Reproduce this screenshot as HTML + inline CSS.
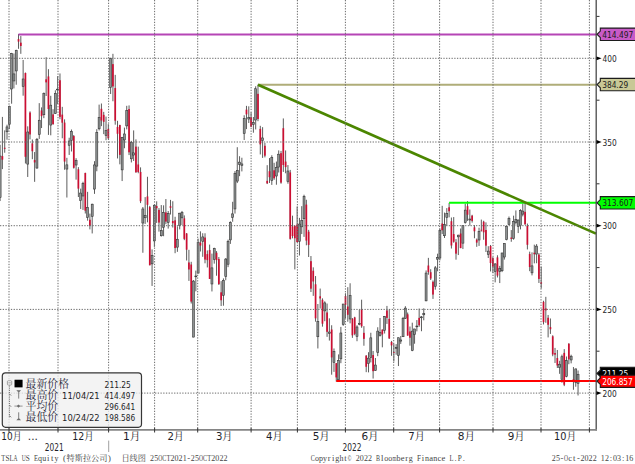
<!DOCTYPE html>
<html><head><meta charset="utf-8"><style>
html,body{margin:0;padding:0;background:#fff;width:635px;height:464px;overflow:hidden}
svg{display:block}
.ax{font-family:"DejaVu Sans","Noto Sans CJK SC",sans-serif;font-size:9.4px;fill:#1e1e28}
.mo{font-family:"DejaVu Sans","Noto Serif CJK SC",sans-serif;font-size:9.8px;fill:#1e1e28}
.lg{font-family:"Liberation Serif","Noto Serif CJK SC",serif;font-size:10.9px;font-weight:400;fill:#2a2a3a}
.ft{font-family:"Liberation Serif",serif;font-size:8.6px;fill:#444}
.ftc{font-family:"Liberation Serif","Noto Serif CJK SC",serif;font-size:8.2px;fill:#444}
</style></head><body>
<svg width="635" height="464" viewBox="0 0 635 464">
<rect width="635" height="464" fill="#fff"/>
<line x1="0.10" y1="144.78" x2="0.10" y2="201.04" stroke="#4a4a4a" stroke-width="0.9"/>
<rect x="-0.90" y="156.03" width="2.0" height="41.48" fill="#8e9292" stroke="#2e2e2e" stroke-width="0.55"/>
<line x1="2.40" y1="116.92" x2="2.40" y2="169.10" stroke="#4a4a4a" stroke-width="0.9"/>
<rect x="1.55" y="156.12" width="1.7" height="3.49" fill="#cc0e32"/>
<line x1="4.71" y1="130.35" x2="4.71" y2="152.72" stroke="#4a4a4a" stroke-width="0.9"/>
<rect x="3.86" y="147.77" width="1.7" height="1.00" fill="#cc0e32"/>
<line x1="7.01" y1="124.70" x2="7.01" y2="139.66" stroke="#4a4a4a" stroke-width="0.9"/>
<rect x="6.01" y="126.91" width="2.0" height="4.87" fill="#8e9292" stroke="#2e2e2e" stroke-width="0.55"/>
<line x1="9.31" y1="105.61" x2="9.31" y2="129.05" stroke="#4a4a4a" stroke-width="0.9"/>
<rect x="8.31" y="106.29" width="2.0" height="17.93" fill="#8e9292" stroke="#2e2e2e" stroke-width="0.55"/>
<line x1="11.61" y1="52.86" x2="11.61" y2="103.69" stroke="#4a4a4a" stroke-width="0.9"/>
<rect x="10.61" y="53.51" width="2.0" height="35.48" fill="#8e9292" stroke="#2e2e2e" stroke-width="0.55"/>
<line x1="13.92" y1="53.51" x2="13.92" y2="88.43" stroke="#4a4a4a" stroke-width="0.9"/>
<rect x="12.92" y="73.92" width="2.0" height="7.05" fill="#8e9292" stroke="#2e2e2e" stroke-width="0.55"/>
<line x1="16.22" y1="49.71" x2="16.22" y2="84.74" stroke="#4a4a4a" stroke-width="0.9"/>
<rect x="15.22" y="50.57" width="2.0" height="20.38" fill="#8e9292" stroke="#2e2e2e" stroke-width="0.55"/>
<line x1="18.52" y1="34.03" x2="18.52" y2="48.81" stroke="#4a4a4a" stroke-width="0.9"/>
<rect x="17.67" y="39.10" width="1.7" height="2.51" fill="#cc0e32"/>
<line x1="20.82" y1="36.05" x2="20.82" y2="53.84" stroke="#4a4a4a" stroke-width="0.9"/>
<rect x="19.97" y="42.68" width="1.7" height="3.30" fill="#cc0e32"/>
<line x1="23.13" y1="59.97" x2="23.13" y2="95.69" stroke="#4a4a4a" stroke-width="0.9"/>
<rect x="22.13" y="78.98" width="2.0" height="7.34" fill="#8e9292" stroke="#2e2e2e" stroke-width="0.55"/>
<line x1="25.43" y1="72.53" x2="25.43" y2="163.47" stroke="#4a4a4a" stroke-width="0.9"/>
<rect x="24.58" y="73.03" width="1.7" height="83.76" fill="#cc0e32"/>
<line x1="27.73" y1="126.32" x2="27.73" y2="176.98" stroke="#4a4a4a" stroke-width="0.9"/>
<rect x="26.73" y="131.98" width="2.0" height="32.11" fill="#8e9292" stroke="#2e2e2e" stroke-width="0.55"/>
<line x1="30.03" y1="111.33" x2="30.03" y2="139.39" stroke="#4a4a4a" stroke-width="0.9"/>
<rect x="29.18" y="112.55" width="1.7" height="21.91" fill="#cc0e32"/>
<line x1="32.34" y1="139.49" x2="32.34" y2="159.19" stroke="#4a4a4a" stroke-width="0.9"/>
<rect x="31.49" y="143.39" width="1.7" height="7.86" fill="#cc0e32"/>
<line x1="34.64" y1="152.06" x2="34.64" y2="181.84" stroke="#4a4a4a" stroke-width="0.9"/>
<rect x="33.79" y="160.06" width="1.7" height="2.37" fill="#cc0e32"/>
<line x1="36.94" y1="137.98" x2="36.94" y2="168.68" stroke="#4a4a4a" stroke-width="0.9"/>
<rect x="35.94" y="139.36" width="2.0" height="28.69" fill="#8e9292" stroke="#2e2e2e" stroke-width="0.55"/>
<line x1="39.24" y1="103.14" x2="39.24" y2="138.93" stroke="#4a4a4a" stroke-width="0.9"/>
<rect x="38.24" y="120.23" width="2.0" height="14.23" fill="#8e9292" stroke="#2e2e2e" stroke-width="0.55"/>
<line x1="41.55" y1="107.40" x2="41.55" y2="128.04" stroke="#4a4a4a" stroke-width="0.9"/>
<rect x="40.70" y="110.45" width="1.7" height="5.67" fill="#cc0e32"/>
<line x1="43.85" y1="92.49" x2="43.85" y2="118.17" stroke="#4a4a4a" stroke-width="0.9"/>
<rect x="42.85" y="93.42" width="2.0" height="21.31" fill="#8e9292" stroke="#2e2e2e" stroke-width="0.55"/>
<line x1="46.15" y1="57.21" x2="46.15" y2="96.00" stroke="#4a4a4a" stroke-width="0.9"/>
<rect x="45.30" y="79.32" width="1.7" height="3.05" fill="#cc0e32"/>
<line x1="48.45" y1="69.18" x2="48.45" y2="134.91" stroke="#4a4a4a" stroke-width="0.9"/>
<rect x="47.60" y="76.43" width="1.7" height="32.63" fill="#cc0e32"/>
<line x1="50.76" y1="95.81" x2="50.76" y2="135.30" stroke="#4a4a4a" stroke-width="0.9"/>
<rect x="49.76" y="105.17" width="2.0" height="19.87" fill="#8e9292" stroke="#2e2e2e" stroke-width="0.55"/>
<line x1="53.06" y1="109.20" x2="53.06" y2="124.70" stroke="#4a4a4a" stroke-width="0.9"/>
<rect x="52.21" y="114.40" width="1.7" height="9.79" fill="#cc0e32"/>
<line x1="55.36" y1="90.29" x2="55.36" y2="113.99" stroke="#4a4a4a" stroke-width="0.9"/>
<rect x="54.36" y="93.46" width="2.0" height="20.09" fill="#8e9292" stroke="#2e2e2e" stroke-width="0.55"/>
<line x1="57.66" y1="76.16" x2="57.66" y2="104.06" stroke="#4a4a4a" stroke-width="0.9"/>
<rect x="56.66" y="89.12" width="2.0" height="0.80" fill="#8e9292" stroke="#2e2e2e" stroke-width="0.55"/>
<line x1="59.97" y1="73.46" x2="59.97" y2="119.26" stroke="#4a4a4a" stroke-width="0.9"/>
<rect x="59.12" y="80.23" width="1.7" height="36.66" fill="#cc0e32"/>
<line x1="62.27" y1="106.85" x2="62.27" y2="138.29" stroke="#4a4a4a" stroke-width="0.9"/>
<rect x="61.42" y="114.62" width="1.7" height="8.07" fill="#cc0e32"/>
<line x1="64.57" y1="119.36" x2="64.57" y2="169.78" stroke="#4a4a4a" stroke-width="0.9"/>
<rect x="63.72" y="122.59" width="1.7" height="38.96" fill="#cc0e32"/>
<line x1="66.88" y1="157.82" x2="66.88" y2="197.52" stroke="#4a4a4a" stroke-width="0.9"/>
<rect x="65.88" y="164.87" width="2.0" height="4.19" fill="#8e9292" stroke="#2e2e2e" stroke-width="0.55"/>
<line x1="69.18" y1="137.72" x2="69.18" y2="154.94" stroke="#4a4a4a" stroke-width="0.9"/>
<rect x="68.18" y="141.02" width="2.0" height="4.21" fill="#8e9292" stroke="#2e2e2e" stroke-width="0.55"/>
<line x1="71.48" y1="129.51" x2="71.48" y2="151.49" stroke="#4a4a4a" stroke-width="0.9"/>
<rect x="70.48" y="131.42" width="2.0" height="9.07" fill="#8e9292" stroke="#2e2e2e" stroke-width="0.55"/>
<line x1="73.78" y1="135.03" x2="73.78" y2="168.58" stroke="#4a4a4a" stroke-width="0.9"/>
<rect x="72.93" y="136.06" width="1.7" height="31.72" fill="#cc0e32"/>
<line x1="76.09" y1="158.19" x2="76.09" y2="179.65" stroke="#4a4a4a" stroke-width="0.9"/>
<rect x="75.09" y="160.40" width="2.0" height="4.62" fill="#8e9292" stroke="#2e2e2e" stroke-width="0.55"/>
<line x1="78.39" y1="167.11" x2="78.39" y2="197.01" stroke="#4a4a4a" stroke-width="0.9"/>
<rect x="77.54" y="169.29" width="1.7" height="19.35" fill="#cc0e32"/>
<line x1="80.69" y1="188.64" x2="80.69" y2="208.96" stroke="#4a4a4a" stroke-width="0.9"/>
<rect x="79.69" y="193.05" width="2.0" height="7.54" fill="#8e9292" stroke="#2e2e2e" stroke-width="0.55"/>
<line x1="82.99" y1="181.76" x2="82.99" y2="209.94" stroke="#4a4a4a" stroke-width="0.9"/>
<rect x="81.99" y="183.30" width="2.0" height="12.71" fill="#8e9292" stroke="#2e2e2e" stroke-width="0.55"/>
<line x1="85.30" y1="172.70" x2="85.30" y2="213.51" stroke="#4a4a4a" stroke-width="0.9"/>
<rect x="84.45" y="172.97" width="1.7" height="37.71" fill="#cc0e32"/>
<line x1="87.60" y1="191.85" x2="87.60" y2="220.66" stroke="#4a4a4a" stroke-width="0.9"/>
<rect x="86.60" y="207.53" width="2.0" height="9.93" fill="#8e9292" stroke="#2e2e2e" stroke-width="0.55"/>
<line x1="89.90" y1="213.60" x2="89.90" y2="229.39" stroke="#4a4a4a" stroke-width="0.9"/>
<rect x="89.05" y="219.73" width="1.7" height="6.00" fill="#cc0e32"/>
<line x1="92.20" y1="203.66" x2="92.20" y2="233.45" stroke="#4a4a4a" stroke-width="0.9"/>
<rect x="91.20" y="204.20" width="2.0" height="12.09" fill="#8e9292" stroke="#2e2e2e" stroke-width="0.55"/>
<line x1="94.51" y1="161.16" x2="94.51" y2="193.87" stroke="#4a4a4a" stroke-width="0.9"/>
<rect x="93.51" y="164.95" width="2.0" height="24.11" fill="#8e9292" stroke="#2e2e2e" stroke-width="0.55"/>
<line x1="96.81" y1="129.18" x2="96.81" y2="171.26" stroke="#4a4a4a" stroke-width="0.9"/>
<rect x="95.81" y="132.51" width="2.0" height="33.59" fill="#8e9292" stroke="#2e2e2e" stroke-width="0.55"/>
<line x1="99.11" y1="104.61" x2="99.11" y2="130.44" stroke="#4a4a4a" stroke-width="0.9"/>
<rect x="98.11" y="117.48" width="2.0" height="11.31" fill="#8e9292" stroke="#2e2e2e" stroke-width="0.55"/>
<line x1="101.41" y1="103.50" x2="101.41" y2="126.14" stroke="#4a4a4a" stroke-width="0.9"/>
<rect x="100.56" y="108.80" width="1.7" height="11.73" fill="#cc0e32"/>
<line x1="103.72" y1="111.87" x2="103.72" y2="134.11" stroke="#4a4a4a" stroke-width="0.9"/>
<rect x="102.87" y="114.86" width="1.7" height="6.95" fill="#cc0e32"/>
<line x1="106.02" y1="116.58" x2="106.02" y2="140.24" stroke="#4a4a4a" stroke-width="0.9"/>
<rect x="105.02" y="130.65" width="2.0" height="5.03" fill="#8e9292" stroke="#2e2e2e" stroke-width="0.55"/>
<line x1="108.32" y1="124.14" x2="108.32" y2="139.44" stroke="#4a4a4a" stroke-width="0.9"/>
<rect x="107.47" y="128.92" width="1.7" height="9.30" fill="#cc0e32"/>
<line x1="110.62" y1="57.70" x2="110.62" y2="93.99" stroke="#4a4a4a" stroke-width="0.9"/>
<rect x="109.62" y="58.42" width="2.0" height="29.03" fill="#8e9292" stroke="#2e2e2e" stroke-width="0.55"/>
<line x1="112.93" y1="53.84" x2="112.93" y2="101.24" stroke="#4a4a4a" stroke-width="0.9"/>
<rect x="112.08" y="64.13" width="1.7" height="22.30" fill="#cc0e32"/>
<line x1="115.23" y1="74.85" x2="115.23" y2="124.70" stroke="#4a4a4a" stroke-width="0.9"/>
<rect x="114.38" y="88.07" width="1.7" height="32.66" fill="#cc0e32"/>
<line x1="117.53" y1="120.80" x2="117.53" y2="158.46" stroke="#4a4a4a" stroke-width="0.9"/>
<rect x="116.68" y="126.93" width="1.7" height="6.86" fill="#cc0e32"/>
<line x1="119.84" y1="124.74" x2="119.84" y2="164.32" stroke="#4a4a4a" stroke-width="0.9"/>
<rect x="118.99" y="125.05" width="1.7" height="29.80" fill="#cc0e32"/>
<line x1="122.14" y1="136.92" x2="122.14" y2="181.06" stroke="#4a4a4a" stroke-width="0.9"/>
<rect x="121.14" y="137.47" width="2.0" height="32.43" fill="#8e9292" stroke="#2e2e2e" stroke-width="0.55"/>
<line x1="124.44" y1="127.58" x2="124.44" y2="148.24" stroke="#4a4a4a" stroke-width="0.9"/>
<rect x="123.44" y="133.96" width="2.0" height="5.99" fill="#8e9292" stroke="#2e2e2e" stroke-width="0.55"/>
<line x1="126.74" y1="105.82" x2="126.74" y2="129.39" stroke="#4a4a4a" stroke-width="0.9"/>
<rect x="125.74" y="110.63" width="2.0" height="15.27" fill="#8e9292" stroke="#2e2e2e" stroke-width="0.55"/>
<line x1="129.05" y1="105.40" x2="129.05" y2="155.09" stroke="#4a4a4a" stroke-width="0.9"/>
<rect x="128.20" y="109.04" width="1.7" height="43.25" fill="#cc0e32"/>
<line x1="131.35" y1="140.88" x2="131.35" y2="162.43" stroke="#4a4a4a" stroke-width="0.9"/>
<rect x="130.35" y="142.22" width="2.0" height="16.59" fill="#8e9292" stroke="#2e2e2e" stroke-width="0.55"/>
<line x1="133.65" y1="130.40" x2="133.65" y2="160.94" stroke="#4a4a4a" stroke-width="0.9"/>
<rect x="132.65" y="152.88" width="2.0" height="2.18" fill="#8e9292" stroke="#2e2e2e" stroke-width="0.55"/>
<line x1="135.95" y1="139.39" x2="135.95" y2="172.69" stroke="#4a4a4a" stroke-width="0.9"/>
<rect x="135.10" y="146.63" width="1.7" height="25.70" fill="#cc0e32"/>
<line x1="138.26" y1="146.65" x2="138.26" y2="173.25" stroke="#4a4a4a" stroke-width="0.9"/>
<rect x="137.41" y="164.47" width="1.7" height="7.51" fill="#cc0e32"/>
<line x1="140.56" y1="167.36" x2="140.56" y2="203.10" stroke="#4a4a4a" stroke-width="0.9"/>
<rect x="139.71" y="171.94" width="1.7" height="29.26" fill="#cc0e32"/>
<line x1="142.86" y1="207.00" x2="142.86" y2="252.78" stroke="#4a4a4a" stroke-width="0.9"/>
<rect x="141.86" y="208.96" width="2.0" height="14.08" fill="#8e9292" stroke="#2e2e2e" stroke-width="0.55"/>
<line x1="145.16" y1="197.10" x2="145.16" y2="223.91" stroke="#4a4a4a" stroke-width="0.9"/>
<rect x="144.16" y="215.43" width="2.0" height="2.34" fill="#8e9292" stroke="#2e2e2e" stroke-width="0.55"/>
<line x1="147.47" y1="176.77" x2="147.47" y2="222.35" stroke="#4a4a4a" stroke-width="0.9"/>
<rect x="146.62" y="196.44" width="1.7" height="8.38" fill="#cc0e32"/>
<line x1="149.77" y1="205.95" x2="149.77" y2="265.32" stroke="#4a4a4a" stroke-width="0.9"/>
<rect x="148.92" y="207.09" width="1.7" height="58.18" fill="#cc0e32"/>
<line x1="152.07" y1="249.42" x2="152.07" y2="285.96" stroke="#4a4a4a" stroke-width="0.9"/>
<rect x="151.07" y="255.64" width="2.0" height="8.25" fill="#8e9292" stroke="#2e2e2e" stroke-width="0.55"/>
<line x1="154.37" y1="204.50" x2="154.37" y2="246.88" stroke="#4a4a4a" stroke-width="0.9"/>
<rect x="153.37" y="205.21" width="2.0" height="35.72" fill="#8e9292" stroke="#2e2e2e" stroke-width="0.55"/>
<line x1="156.68" y1="201.32" x2="156.68" y2="222.91" stroke="#4a4a4a" stroke-width="0.9"/>
<rect x="155.83" y="206.05" width="1.7" height="2.21" fill="#cc0e32"/>
<line x1="158.98" y1="208.12" x2="158.98" y2="231.61" stroke="#4a4a4a" stroke-width="0.9"/>
<rect x="158.13" y="209.98" width="1.7" height="12.57" fill="#cc0e32"/>
<line x1="161.28" y1="205.05" x2="161.28" y2="236.57" stroke="#4a4a4a" stroke-width="0.9"/>
<rect x="160.28" y="230.64" width="2.0" height="5.10" fill="#8e9292" stroke="#2e2e2e" stroke-width="0.55"/>
<line x1="163.58" y1="205.33" x2="163.58" y2="236.21" stroke="#4a4a4a" stroke-width="0.9"/>
<rect x="162.58" y="212.69" width="2.0" height="14.56" fill="#8e9292" stroke="#2e2e2e" stroke-width="0.55"/>
<line x1="165.89" y1="199.04" x2="165.89" y2="224.19" stroke="#4a4a4a" stroke-width="0.9"/>
<rect x="165.04" y="212.43" width="1.7" height="9.18" fill="#cc0e32"/>
<line x1="168.19" y1="211.03" x2="168.19" y2="228.60" stroke="#4a4a4a" stroke-width="0.9"/>
<rect x="167.19" y="213.42" width="2.0" height="9.19" fill="#8e9292" stroke="#2e2e2e" stroke-width="0.55"/>
<line x1="170.49" y1="199.88" x2="170.49" y2="214.54" stroke="#4a4a4a" stroke-width="0.9"/>
<rect x="169.64" y="206.17" width="1.7" height="1.67" fill="#cc0e32"/>
<line x1="172.79" y1="201.25" x2="172.79" y2="227.54" stroke="#4a4a4a" stroke-width="0.9"/>
<rect x="171.94" y="221.03" width="1.7" height="2.13" fill="#cc0e32"/>
<line x1="175.10" y1="216.79" x2="175.10" y2="253.21" stroke="#4a4a4a" stroke-width="0.9"/>
<rect x="174.25" y="220.33" width="1.7" height="27.69" fill="#cc0e32"/>
<line x1="177.40" y1="226.32" x2="177.40" y2="251.84" stroke="#4a4a4a" stroke-width="0.9"/>
<rect x="176.40" y="239.23" width="2.0" height="7.92" fill="#8e9292" stroke="#2e2e2e" stroke-width="0.55"/>
<line x1="179.70" y1="212.87" x2="179.70" y2="229.39" stroke="#4a4a4a" stroke-width="0.9"/>
<rect x="178.70" y="213.18" width="2.0" height="12.52" fill="#8e9292" stroke="#2e2e2e" stroke-width="0.55"/>
<line x1="182.01" y1="210.95" x2="182.01" y2="225.02" stroke="#4a4a4a" stroke-width="0.9"/>
<rect x="181.01" y="212.65" width="2.0" height="5.21" fill="#8e9292" stroke="#2e2e2e" stroke-width="0.55"/>
<line x1="184.31" y1="215.38" x2="184.31" y2="240.15" stroke="#4a4a4a" stroke-width="0.9"/>
<rect x="183.46" y="218.30" width="1.7" height="20.60" fill="#cc0e32"/>
<line x1="186.61" y1="233.03" x2="186.61" y2="260.51" stroke="#4a4a4a" stroke-width="0.9"/>
<rect x="185.76" y="233.51" width="1.7" height="16.19" fill="#cc0e32"/>
<line x1="188.91" y1="249.84" x2="188.91" y2="280.89" stroke="#4a4a4a" stroke-width="0.9"/>
<rect x="188.06" y="262.46" width="1.7" height="7.03" fill="#cc0e32"/>
<line x1="191.22" y1="261.80" x2="191.22" y2="303.51" stroke="#4a4a4a" stroke-width="0.9"/>
<rect x="190.37" y="264.52" width="1.7" height="37.05" fill="#cc0e32"/>
<line x1="193.52" y1="280.12" x2="193.52" y2="337.30" stroke="#4a4a4a" stroke-width="0.9"/>
<rect x="192.52" y="281.07" width="2.0" height="56.01" fill="#8e9292" stroke="#2e2e2e" stroke-width="0.55"/>
<line x1="195.82" y1="270.62" x2="195.82" y2="291.32" stroke="#4a4a4a" stroke-width="0.9"/>
<rect x="194.82" y="275.99" width="2.0" height="0.80" fill="#8e9292" stroke="#2e2e2e" stroke-width="0.55"/>
<line x1="198.12" y1="238.61" x2="198.12" y2="273.29" stroke="#4a4a4a" stroke-width="0.9"/>
<rect x="197.12" y="242.20" width="2.0" height="30.92" fill="#8e9292" stroke="#2e2e2e" stroke-width="0.55"/>
<line x1="200.43" y1="231.35" x2="200.43" y2="251.49" stroke="#4a4a4a" stroke-width="0.9"/>
<rect x="199.58" y="242.62" width="1.7" height="2.96" fill="#cc0e32"/>
<line x1="202.73" y1="233.24" x2="202.73" y2="256.80" stroke="#4a4a4a" stroke-width="0.9"/>
<rect x="201.73" y="236.92" width="2.0" height="4.33" fill="#8e9292" stroke="#2e2e2e" stroke-width="0.55"/>
<line x1="205.03" y1="233.27" x2="205.03" y2="263.31" stroke="#4a4a4a" stroke-width="0.9"/>
<rect x="204.18" y="237.55" width="1.7" height="22.03" fill="#cc0e32"/>
<line x1="207.33" y1="250.45" x2="207.33" y2="267.46" stroke="#4a4a4a" stroke-width="0.9"/>
<rect x="206.48" y="254.10" width="1.7" height="6.03" fill="#cc0e32"/>
<line x1="209.64" y1="244.59" x2="209.64" y2="278.95" stroke="#4a4a4a" stroke-width="0.9"/>
<rect x="208.79" y="250.08" width="1.7" height="28.86" fill="#cc0e32"/>
<line x1="211.94" y1="253.61" x2="211.94" y2="291.45" stroke="#4a4a4a" stroke-width="0.9"/>
<rect x="210.94" y="267.88" width="2.0" height="16.11" fill="#8e9292" stroke="#2e2e2e" stroke-width="0.55"/>
<line x1="214.24" y1="247.71" x2="214.24" y2="263.64" stroke="#4a4a4a" stroke-width="0.9"/>
<rect x="213.24" y="248.59" width="2.0" height="10.88" fill="#8e9292" stroke="#2e2e2e" stroke-width="0.55"/>
<line x1="216.54" y1="251.12" x2="216.54" y2="275.72" stroke="#4a4a4a" stroke-width="0.9"/>
<rect x="215.69" y="252.79" width="1.7" height="7.34" fill="#cc0e32"/>
<line x1="218.85" y1="257.06" x2="218.85" y2="284.98" stroke="#4a4a4a" stroke-width="0.9"/>
<rect x="218.00" y="259.07" width="1.7" height="25.03" fill="#cc0e32"/>
<line x1="221.15" y1="281.11" x2="221.15" y2="306.03" stroke="#4a4a4a" stroke-width="0.9"/>
<rect x="220.30" y="292.32" width="1.7" height="7.95" fill="#cc0e32"/>
<line x1="223.45" y1="278.39" x2="223.45" y2="305.73" stroke="#4a4a4a" stroke-width="0.9"/>
<rect x="222.45" y="280.45" width="2.0" height="14.85" fill="#8e9292" stroke="#2e2e2e" stroke-width="0.55"/>
<line x1="225.75" y1="258.06" x2="225.75" y2="280.24" stroke="#4a4a4a" stroke-width="0.9"/>
<rect x="224.75" y="259.05" width="2.0" height="17.43" fill="#8e9292" stroke="#2e2e2e" stroke-width="0.55"/>
<line x1="228.06" y1="239.65" x2="228.06" y2="267.15" stroke="#4a4a4a" stroke-width="0.9"/>
<rect x="227.06" y="241.55" width="2.0" height="22.66" fill="#8e9292" stroke="#2e2e2e" stroke-width="0.55"/>
<line x1="230.36" y1="221.32" x2="230.36" y2="243.90" stroke="#4a4a4a" stroke-width="0.9"/>
<rect x="229.36" y="222.69" width="2.0" height="17.24" fill="#8e9292" stroke="#2e2e2e" stroke-width="0.55"/>
<line x1="232.66" y1="201.79" x2="232.66" y2="221.74" stroke="#4a4a4a" stroke-width="0.9"/>
<rect x="231.66" y="213.89" width="2.0" height="3.45" fill="#8e9292" stroke="#2e2e2e" stroke-width="0.55"/>
<line x1="234.97" y1="171.09" x2="234.97" y2="213.56" stroke="#4a4a4a" stroke-width="0.9"/>
<rect x="233.97" y="173.26" width="2.0" height="35.70" fill="#8e9292" stroke="#2e2e2e" stroke-width="0.55"/>
<line x1="237.27" y1="147.19" x2="237.27" y2="183.07" stroke="#4a4a4a" stroke-width="0.9"/>
<rect x="236.27" y="170.40" width="2.0" height="10.70" fill="#8e9292" stroke="#2e2e2e" stroke-width="0.55"/>
<line x1="239.57" y1="156.23" x2="239.57" y2="176.15" stroke="#4a4a4a" stroke-width="0.9"/>
<rect x="238.57" y="162.13" width="2.0" height="2.34" fill="#8e9292" stroke="#2e2e2e" stroke-width="0.55"/>
<line x1="241.87" y1="157.74" x2="241.87" y2="171.40" stroke="#4a4a4a" stroke-width="0.9"/>
<rect x="240.87" y="163.96" width="2.0" height="1.47" fill="#8e9292" stroke="#2e2e2e" stroke-width="0.55"/>
<line x1="244.18" y1="115.28" x2="244.18" y2="139.99" stroke="#4a4a4a" stroke-width="0.9"/>
<rect x="243.18" y="118.65" width="2.0" height="14.92" fill="#8e9292" stroke="#2e2e2e" stroke-width="0.55"/>
<line x1="246.48" y1="105.86" x2="246.48" y2="129.10" stroke="#4a4a4a" stroke-width="0.9"/>
<rect x="245.63" y="109.64" width="1.7" height="4.70" fill="#cc0e32"/>
<line x1="248.78" y1="106.32" x2="248.78" y2="123.03" stroke="#4a4a4a" stroke-width="0.9"/>
<rect x="247.78" y="117.45" width="2.0" height="1.57" fill="#8e9292" stroke="#2e2e2e" stroke-width="0.55"/>
<line x1="251.08" y1="112.35" x2="251.08" y2="127.13" stroke="#4a4a4a" stroke-width="0.9"/>
<rect x="250.23" y="117.13" width="1.7" height="9.47" fill="#cc0e32"/>
<line x1="253.39" y1="117.03" x2="253.39" y2="132.71" stroke="#4a4a4a" stroke-width="0.9"/>
<rect x="252.39" y="122.70" width="2.0" height="1.92" fill="#8e9292" stroke="#2e2e2e" stroke-width="0.55"/>
<line x1="255.69" y1="86.25" x2="255.69" y2="129.43" stroke="#4a4a4a" stroke-width="0.9"/>
<rect x="254.69" y="88.74" width="2.0" height="31.29" fill="#8e9292" stroke="#2e2e2e" stroke-width="0.55"/>
<line x1="257.99" y1="84.60" x2="257.99" y2="121.19" stroke="#4a4a4a" stroke-width="0.9"/>
<rect x="257.14" y="93.84" width="1.7" height="25.13" fill="#cc0e32"/>
<line x1="260.29" y1="125.82" x2="260.29" y2="154.44" stroke="#4a4a4a" stroke-width="0.9"/>
<rect x="259.44" y="128.90" width="1.7" height="15.46" fill="#cc0e32"/>
<line x1="262.60" y1="127.16" x2="262.60" y2="157.88" stroke="#4a4a4a" stroke-width="0.9"/>
<rect x="261.60" y="137.95" width="2.0" height="2.72" fill="#8e9292" stroke="#2e2e2e" stroke-width="0.55"/>
<line x1="264.90" y1="142.87" x2="264.90" y2="157.38" stroke="#4a4a4a" stroke-width="0.9"/>
<rect x="264.05" y="145.79" width="1.7" height="9.89" fill="#cc0e32"/>
<line x1="267.20" y1="165.17" x2="267.20" y2="184.05" stroke="#4a4a4a" stroke-width="0.9"/>
<rect x="266.35" y="180.84" width="1.7" height="2.49" fill="#cc0e32"/>
<line x1="269.50" y1="158.08" x2="269.50" y2="182.96" stroke="#4a4a4a" stroke-width="0.9"/>
<rect x="268.65" y="171.22" width="1.7" height="5.97" fill="#cc0e32"/>
<line x1="271.81" y1="155.26" x2="271.81" y2="184.91" stroke="#4a4a4a" stroke-width="0.9"/>
<rect x="270.81" y="157.42" width="2.0" height="23.04" fill="#8e9292" stroke="#2e2e2e" stroke-width="0.55"/>
<line x1="274.11" y1="162.81" x2="274.11" y2="179.84" stroke="#4a4a4a" stroke-width="0.9"/>
<rect x="273.26" y="170.30" width="1.7" height="7.97" fill="#cc0e32"/>
<line x1="276.41" y1="161.57" x2="276.41" y2="184.74" stroke="#4a4a4a" stroke-width="0.9"/>
<rect x="275.41" y="167.51" width="2.0" height="8.52" fill="#8e9292" stroke="#2e2e2e" stroke-width="0.55"/>
<line x1="278.71" y1="150.40" x2="278.71" y2="172.51" stroke="#4a4a4a" stroke-width="0.9"/>
<rect x="277.71" y="154.19" width="2.0" height="12.88" fill="#8e9292" stroke="#2e2e2e" stroke-width="0.55"/>
<line x1="281.02" y1="150.93" x2="281.02" y2="183.71" stroke="#4a4a4a" stroke-width="0.9"/>
<rect x="280.17" y="153.16" width="1.7" height="29.46" fill="#cc0e32"/>
<line x1="283.32" y1="118.44" x2="283.32" y2="171.90" stroke="#4a4a4a" stroke-width="0.9"/>
<rect x="282.47" y="128.20" width="1.7" height="36.80" fill="#cc0e32"/>
<line x1="285.62" y1="150.45" x2="285.62" y2="173.25" stroke="#4a4a4a" stroke-width="0.9"/>
<rect x="284.77" y="161.58" width="1.7" height="5.50" fill="#cc0e32"/>
<line x1="287.93" y1="165.09" x2="287.93" y2="183.68" stroke="#4a4a4a" stroke-width="0.9"/>
<rect x="286.93" y="171.00" width="2.0" height="10.63" fill="#8e9292" stroke="#2e2e2e" stroke-width="0.55"/>
<line x1="290.23" y1="169.90" x2="290.23" y2="239.65" stroke="#4a4a4a" stroke-width="0.9"/>
<rect x="289.38" y="172.45" width="1.7" height="66.41" fill="#cc0e32"/>
<line x1="292.53" y1="215.66" x2="292.53" y2="238.33" stroke="#4a4a4a" stroke-width="0.9"/>
<rect x="291.68" y="226.49" width="1.7" height="9.53" fill="#cc0e32"/>
<line x1="294.83" y1="225.70" x2="294.83" y2="269.39" stroke="#4a4a4a" stroke-width="0.9"/>
<rect x="293.98" y="225.71" width="1.7" height="12.54" fill="#cc0e32"/>
<line x1="297.14" y1="206.50" x2="297.14" y2="242.44" stroke="#4a4a4a" stroke-width="0.9"/>
<rect x="296.29" y="224.58" width="1.7" height="17.43" fill="#cc0e32"/>
<line x1="299.44" y1="217.89" x2="299.44" y2="255.53" stroke="#4a4a4a" stroke-width="0.9"/>
<rect x="298.44" y="224.06" width="2.0" height="17.26" fill="#8e9292" stroke="#2e2e2e" stroke-width="0.55"/>
<line x1="301.74" y1="206.17" x2="301.74" y2="234.07" stroke="#4a4a4a" stroke-width="0.9"/>
<rect x="300.74" y="220.54" width="2.0" height="6.28" fill="#8e9292" stroke="#2e2e2e" stroke-width="0.55"/>
<line x1="304.04" y1="194.73" x2="304.04" y2="236.86" stroke="#4a4a4a" stroke-width="0.9"/>
<rect x="303.04" y="196.34" width="2.0" height="22.39" fill="#8e9292" stroke="#2e2e2e" stroke-width="0.55"/>
<line x1="306.35" y1="199.75" x2="306.35" y2="245.29" stroke="#4a4a4a" stroke-width="0.9"/>
<rect x="305.50" y="204.61" width="1.7" height="36.01" fill="#cc0e32"/>
<line x1="308.65" y1="229.88" x2="308.65" y2="257.00" stroke="#4a4a4a" stroke-width="0.9"/>
<rect x="307.80" y="231.73" width="1.7" height="13.14" fill="#cc0e32"/>
<line x1="310.95" y1="256.04" x2="310.95" y2="292.02" stroke="#4a4a4a" stroke-width="0.9"/>
<rect x="310.10" y="261.16" width="1.7" height="27.53" fill="#cc0e32"/>
<line x1="313.25" y1="267.35" x2="313.25" y2="295.87" stroke="#4a4a4a" stroke-width="0.9"/>
<rect x="312.40" y="270.73" width="1.7" height="10.75" fill="#cc0e32"/>
<line x1="315.56" y1="276.05" x2="315.56" y2="321.68" stroke="#4a4a4a" stroke-width="0.9"/>
<rect x="314.71" y="284.29" width="1.7" height="34.04" fill="#cc0e32"/>
<line x1="317.86" y1="304.01" x2="317.86" y2="348.46" stroke="#4a4a4a" stroke-width="0.9"/>
<rect x="316.86" y="321.68" width="2.0" height="15.07" fill="#8e9292" stroke="#2e2e2e" stroke-width="0.55"/>
<line x1="320.16" y1="288.56" x2="320.16" y2="308.53" stroke="#4a4a4a" stroke-width="0.9"/>
<rect x="319.31" y="296.30" width="1.7" height="2.17" fill="#cc0e32"/>
<line x1="322.46" y1="298.37" x2="322.46" y2="326.65" stroke="#4a4a4a" stroke-width="0.9"/>
<rect x="321.61" y="299.82" width="1.7" height="23.88" fill="#cc0e32"/>
<line x1="324.77" y1="301.32" x2="324.77" y2="321.20" stroke="#4a4a4a" stroke-width="0.9"/>
<rect x="323.77" y="302.92" width="2.0" height="7.95" fill="#8e9292" stroke="#2e2e2e" stroke-width="0.55"/>
<line x1="327.07" y1="303.54" x2="327.07" y2="336.85" stroke="#4a4a4a" stroke-width="0.9"/>
<rect x="326.22" y="312.46" width="1.7" height="19.37" fill="#cc0e32"/>
<line x1="329.37" y1="318.33" x2="329.37" y2="340.59" stroke="#4a4a4a" stroke-width="0.9"/>
<rect x="328.37" y="332.04" width="2.0" height="1.35" fill="#8e9292" stroke="#2e2e2e" stroke-width="0.55"/>
<line x1="331.67" y1="325.26" x2="331.67" y2="374.69" stroke="#4a4a4a" stroke-width="0.9"/>
<rect x="330.82" y="329.49" width="1.7" height="27.95" fill="#cc0e32"/>
<line x1="333.98" y1="348.48" x2="333.98" y2="371.86" stroke="#4a4a4a" stroke-width="0.9"/>
<rect x="332.98" y="351.31" width="2.0" height="11.09" fill="#8e9292" stroke="#2e2e2e" stroke-width="0.55"/>
<line x1="336.28" y1="363.01" x2="336.28" y2="381.62" stroke="#4a4a4a" stroke-width="0.9"/>
<rect x="335.43" y="363.23" width="1.7" height="14.16" fill="#cc0e32"/>
<line x1="338.58" y1="354.42" x2="338.58" y2="380.26" stroke="#4a4a4a" stroke-width="0.9"/>
<rect x="337.58" y="360.29" width="2.0" height="19.50" fill="#8e9292" stroke="#2e2e2e" stroke-width="0.55"/>
<line x1="340.88" y1="326.88" x2="340.88" y2="363.16" stroke="#4a4a4a" stroke-width="0.9"/>
<rect x="339.88" y="332.99" width="2.0" height="25.84" fill="#8e9292" stroke="#2e2e2e" stroke-width="0.55"/>
<line x1="343.19" y1="303.93" x2="343.19" y2="325.84" stroke="#4a4a4a" stroke-width="0.9"/>
<rect x="342.19" y="304.03" width="2.0" height="20.30" fill="#8e9292" stroke="#2e2e2e" stroke-width="0.55"/>
<line x1="345.49" y1="293.33" x2="345.49" y2="318.21" stroke="#4a4a4a" stroke-width="0.9"/>
<rect x="344.64" y="296.10" width="1.7" height="8.69" fill="#cc0e32"/>
<line x1="347.79" y1="287.19" x2="347.79" y2="321.72" stroke="#4a4a4a" stroke-width="0.9"/>
<rect x="346.94" y="306.52" width="1.7" height="8.25" fill="#cc0e32"/>
<line x1="350.10" y1="283.28" x2="350.10" y2="323.35" stroke="#4a4a4a" stroke-width="0.9"/>
<rect x="349.10" y="295.45" width="2.0" height="23.56" fill="#8e9292" stroke="#2e2e2e" stroke-width="0.55"/>
<line x1="352.40" y1="318.05" x2="352.40" y2="337.86" stroke="#4a4a4a" stroke-width="0.9"/>
<rect x="351.55" y="318.84" width="1.7" height="16.48" fill="#cc0e32"/>
<line x1="354.70" y1="316.77" x2="354.70" y2="335.18" stroke="#4a4a4a" stroke-width="0.9"/>
<rect x="353.85" y="317.44" width="1.7" height="16.41" fill="#cc0e32"/>
<line x1="357.00" y1="325.30" x2="357.00" y2="341.21" stroke="#4a4a4a" stroke-width="0.9"/>
<rect x="356.00" y="326.98" width="2.0" height="9.54" fill="#8e9292" stroke="#2e2e2e" stroke-width="0.55"/>
<line x1="359.31" y1="309.73" x2="359.31" y2="325.30" stroke="#4a4a4a" stroke-width="0.9"/>
<rect x="358.31" y="323.46" width="2.0" height="0.80" fill="#8e9292" stroke="#2e2e2e" stroke-width="0.55"/>
<line x1="361.61" y1="299.69" x2="361.61" y2="327.81" stroke="#4a4a4a" stroke-width="0.9"/>
<rect x="360.76" y="309.73" width="1.7" height="16.57" fill="#cc0e32"/>
<line x1="363.91" y1="326.14" x2="363.91" y2="345.73" stroke="#4a4a4a" stroke-width="0.9"/>
<rect x="363.06" y="332.84" width="1.7" height="6.03" fill="#cc0e32"/>
<line x1="366.21" y1="355.08" x2="366.21" y2="372.15" stroke="#4a4a4a" stroke-width="0.9"/>
<rect x="365.36" y="355.68" width="1.7" height="11.08" fill="#cc0e32"/>
<line x1="368.52" y1="352.21" x2="368.52" y2="372.38" stroke="#4a4a4a" stroke-width="0.9"/>
<rect x="367.52" y="358.13" width="2.0" height="5.40" fill="#8e9292" stroke="#2e2e2e" stroke-width="0.55"/>
<line x1="370.82" y1="332.76" x2="370.82" y2="362.41" stroke="#4a4a4a" stroke-width="0.9"/>
<rect x="369.82" y="337.86" width="2.0" height="19.48" fill="#8e9292" stroke="#2e2e2e" stroke-width="0.55"/>
<line x1="373.12" y1="350.98" x2="373.12" y2="378.55" stroke="#4a4a4a" stroke-width="0.9"/>
<rect x="372.27" y="355.04" width="1.7" height="16.13" fill="#cc0e32"/>
<line x1="375.42" y1="358.00" x2="375.42" y2="371.01" stroke="#4a4a4a" stroke-width="0.9"/>
<rect x="374.42" y="365.04" width="2.0" height="5.57" fill="#8e9292" stroke="#2e2e2e" stroke-width="0.55"/>
<line x1="377.73" y1="327.26" x2="377.73" y2="356.15" stroke="#4a4a4a" stroke-width="0.9"/>
<rect x="376.73" y="331.10" width="2.0" height="21.27" fill="#8e9292" stroke="#2e2e2e" stroke-width="0.55"/>
<line x1="380.03" y1="317.99" x2="380.03" y2="336.51" stroke="#4a4a4a" stroke-width="0.9"/>
<rect x="379.03" y="332.69" width="2.0" height="2.94" fill="#8e9292" stroke="#2e2e2e" stroke-width="0.55"/>
<line x1="382.33" y1="329.39" x2="382.33" y2="347.32" stroke="#4a4a4a" stroke-width="0.9"/>
<rect x="381.48" y="329.66" width="1.7" height="4.74" fill="#cc0e32"/>
<line x1="384.63" y1="315.98" x2="384.63" y2="333.51" stroke="#4a4a4a" stroke-width="0.9"/>
<rect x="383.63" y="316.59" width="2.0" height="13.79" fill="#8e9292" stroke="#2e2e2e" stroke-width="0.55"/>
<line x1="386.94" y1="305.93" x2="386.94" y2="323.91" stroke="#4a4a4a" stroke-width="0.9"/>
<rect x="386.09" y="310.46" width="1.7" height="7.44" fill="#cc0e32"/>
<line x1="389.24" y1="309.45" x2="389.24" y2="338.97" stroke="#4a4a4a" stroke-width="0.9"/>
<rect x="388.39" y="318.89" width="1.7" height="19.54" fill="#cc0e32"/>
<line x1="391.54" y1="340.92" x2="391.54" y2="355.81" stroke="#4a4a4a" stroke-width="0.9"/>
<rect x="390.69" y="342.04" width="1.7" height="3.36" fill="#cc0e32"/>
<line x1="393.84" y1="343.79" x2="393.84" y2="361.46" stroke="#4a4a4a" stroke-width="0.9"/>
<rect x="392.99" y="352.07" width="1.7" height="0.80" fill="#cc0e32"/>
<line x1="396.15" y1="344.13" x2="396.15" y2="354.74" stroke="#4a4a4a" stroke-width="0.9"/>
<rect x="395.15" y="347.46" width="2.0" height="0.80" fill="#8e9292" stroke="#2e2e2e" stroke-width="0.55"/>
<line x1="398.45" y1="337.61" x2="398.45" y2="366.04" stroke="#4a4a4a" stroke-width="0.9"/>
<rect x="397.45" y="337.75" width="2.0" height="17.68" fill="#8e9292" stroke="#2e2e2e" stroke-width="0.55"/>
<line x1="400.75" y1="336.07" x2="400.75" y2="343.91" stroke="#4a4a4a" stroke-width="0.9"/>
<rect x="399.75" y="339.98" width="2.0" height="1.09" fill="#8e9292" stroke="#2e2e2e" stroke-width="0.55"/>
<line x1="403.06" y1="316.88" x2="403.06" y2="337.04" stroke="#4a4a4a" stroke-width="0.9"/>
<rect x="402.06" y="318.53" width="2.0" height="18.20" fill="#8e9292" stroke="#2e2e2e" stroke-width="0.55"/>
<line x1="405.36" y1="306.20" x2="405.36" y2="318.82" stroke="#4a4a4a" stroke-width="0.9"/>
<rect x="404.36" y="308.12" width="2.0" height="10.35" fill="#8e9292" stroke="#2e2e2e" stroke-width="0.55"/>
<line x1="407.66" y1="312.54" x2="407.66" y2="335.65" stroke="#4a4a4a" stroke-width="0.9"/>
<rect x="406.81" y="314.32" width="1.7" height="21.29" fill="#cc0e32"/>
<line x1="409.96" y1="326.53" x2="409.96" y2="345.67" stroke="#4a4a4a" stroke-width="0.9"/>
<rect x="409.11" y="331.42" width="1.7" height="6.32" fill="#cc0e32"/>
<line x1="412.27" y1="322.69" x2="412.27" y2="351.19" stroke="#4a4a4a" stroke-width="0.9"/>
<rect x="411.27" y="331.10" width="2.0" height="19.32" fill="#8e9292" stroke="#2e2e2e" stroke-width="0.55"/>
<line x1="414.57" y1="328.80" x2="414.57" y2="343.73" stroke="#4a4a4a" stroke-width="0.9"/>
<rect x="413.57" y="328.96" width="2.0" height="5.72" fill="#8e9292" stroke="#2e2e2e" stroke-width="0.55"/>
<line x1="416.87" y1="320.07" x2="416.87" y2="331.35" stroke="#4a4a4a" stroke-width="0.9"/>
<rect x="415.87" y="326.03" width="2.0" height="0.80" fill="#8e9292" stroke="#2e2e2e" stroke-width="0.55"/>
<line x1="419.17" y1="308.54" x2="419.17" y2="326.80" stroke="#4a4a4a" stroke-width="0.9"/>
<rect x="418.32" y="317.88" width="1.7" height="7.35" fill="#cc0e32"/>
<line x1="421.48" y1="316.10" x2="421.48" y2="331.22" stroke="#4a4a4a" stroke-width="0.9"/>
<rect x="420.48" y="316.88" width="2.0" height="0.89" fill="#8e9292" stroke="#2e2e2e" stroke-width="0.55"/>
<line x1="423.78" y1="308.29" x2="423.78" y2="320.31" stroke="#4a4a4a" stroke-width="0.9"/>
<rect x="422.78" y="313.58" width="2.0" height="1.20" fill="#8e9292" stroke="#2e2e2e" stroke-width="0.55"/>
<line x1="426.08" y1="270.45" x2="426.08" y2="301.25" stroke="#4a4a4a" stroke-width="0.9"/>
<rect x="425.08" y="273.06" width="2.0" height="27.79" fill="#8e9292" stroke="#2e2e2e" stroke-width="0.55"/>
<line x1="428.38" y1="257.86" x2="428.38" y2="274.73" stroke="#4a4a4a" stroke-width="0.9"/>
<rect x="427.53" y="265.51" width="1.7" height="6.66" fill="#cc0e32"/>
<line x1="430.69" y1="269.22" x2="430.69" y2="280.02" stroke="#4a4a4a" stroke-width="0.9"/>
<rect x="429.84" y="272.21" width="1.7" height="6.33" fill="#cc0e32"/>
<line x1="432.99" y1="280.42" x2="432.99" y2="298.92" stroke="#4a4a4a" stroke-width="0.9"/>
<rect x="432.14" y="281.76" width="1.7" height="12.81" fill="#cc0e32"/>
<line x1="435.29" y1="266.00" x2="435.29" y2="289.66" stroke="#4a4a4a" stroke-width="0.9"/>
<rect x="434.29" y="267.85" width="2.0" height="18.40" fill="#8e9292" stroke="#2e2e2e" stroke-width="0.55"/>
<line x1="437.59" y1="253.69" x2="437.59" y2="271.27" stroke="#4a4a4a" stroke-width="0.9"/>
<rect x="436.59" y="257.67" width="2.0" height="1.51" fill="#8e9292" stroke="#2e2e2e" stroke-width="0.55"/>
<line x1="439.90" y1="228.51" x2="439.90" y2="260.41" stroke="#4a4a4a" stroke-width="0.9"/>
<rect x="438.90" y="230.47" width="2.0" height="27.54" fill="#8e9292" stroke="#2e2e2e" stroke-width="0.55"/>
<line x1="442.20" y1="205.82" x2="442.20" y2="234.07" stroke="#4a4a4a" stroke-width="0.9"/>
<rect x="441.35" y="223.56" width="1.7" height="6.70" fill="#cc0e32"/>
<line x1="444.50" y1="212.59" x2="444.50" y2="237.98" stroke="#4a4a4a" stroke-width="0.9"/>
<rect x="443.50" y="224.72" width="2.0" height="11.02" fill="#8e9292" stroke="#2e2e2e" stroke-width="0.55"/>
<line x1="446.80" y1="208.12" x2="446.80" y2="225.70" stroke="#4a4a4a" stroke-width="0.9"/>
<rect x="445.80" y="213.32" width="2.0" height="4.01" fill="#8e9292" stroke="#2e2e2e" stroke-width="0.55"/>
<line x1="449.11" y1="202.92" x2="449.11" y2="217.33" stroke="#4a4a4a" stroke-width="0.9"/>
<rect x="448.26" y="207.29" width="1.7" height="3.96" fill="#cc0e32"/>
<line x1="451.41" y1="217.53" x2="451.41" y2="248.52" stroke="#4a4a4a" stroke-width="0.9"/>
<rect x="450.56" y="221.23" width="1.7" height="24.27" fill="#cc0e32"/>
<line x1="453.71" y1="217.07" x2="453.71" y2="242.71" stroke="#4a4a4a" stroke-width="0.9"/>
<rect x="452.86" y="234.07" width="1.7" height="7.66" fill="#cc0e32"/>
<line x1="456.01" y1="239.09" x2="456.01" y2="259.68" stroke="#4a4a4a" stroke-width="0.9"/>
<rect x="455.16" y="242.27" width="1.7" height="11.38" fill="#cc0e32"/>
<line x1="458.32" y1="234.72" x2="458.32" y2="255.05" stroke="#4a4a4a" stroke-width="0.9"/>
<rect x="457.32" y="235.15" width="2.0" height="1.71" fill="#8e9292" stroke="#2e2e2e" stroke-width="0.55"/>
<line x1="460.62" y1="228.51" x2="460.62" y2="248.19" stroke="#4a4a4a" stroke-width="0.9"/>
<rect x="459.77" y="233.51" width="1.7" height="14.57" fill="#cc0e32"/>
<line x1="462.92" y1="225.70" x2="462.92" y2="249.05" stroke="#4a4a4a" stroke-width="0.9"/>
<rect x="461.92" y="225.70" width="2.0" height="17.44" fill="#8e9292" stroke="#2e2e2e" stroke-width="0.55"/>
<line x1="465.23" y1="203.71" x2="465.23" y2="223.64" stroke="#4a4a4a" stroke-width="0.9"/>
<rect x="464.23" y="210.10" width="2.0" height="12.62" fill="#8e9292" stroke="#2e2e2e" stroke-width="0.55"/>
<line x1="467.53" y1="201.15" x2="467.53" y2="220.87" stroke="#4a4a4a" stroke-width="0.9"/>
<rect x="466.68" y="206.17" width="1.7" height="8.54" fill="#cc0e32"/>
<line x1="469.83" y1="209.53" x2="469.83" y2="225.64" stroke="#4a4a4a" stroke-width="0.9"/>
<rect x="468.83" y="219.01" width="2.0" height="1.00" fill="#8e9292" stroke="#2e2e2e" stroke-width="0.55"/>
<line x1="472.13" y1="214.82" x2="472.13" y2="222.60" stroke="#4a4a4a" stroke-width="0.9"/>
<rect x="471.28" y="215.66" width="1.7" height="5.24" fill="#cc0e32"/>
<line x1="474.44" y1="225.10" x2="474.44" y2="238.25" stroke="#4a4a4a" stroke-width="0.9"/>
<rect x="473.59" y="227.37" width="1.7" height="3.91" fill="#cc0e32"/>
<line x1="476.74" y1="238.53" x2="476.74" y2="246.83" stroke="#4a4a4a" stroke-width="0.9"/>
<rect x="475.89" y="239.65" width="1.7" height="2.94" fill="#cc0e32"/>
<line x1="479.04" y1="227.66" x2="479.04" y2="245.92" stroke="#4a4a4a" stroke-width="0.9"/>
<rect x="478.04" y="231.64" width="2.0" height="8.37" fill="#8e9292" stroke="#2e2e2e" stroke-width="0.55"/>
<line x1="481.34" y1="219.60" x2="481.34" y2="231.56" stroke="#4a4a4a" stroke-width="0.9"/>
<rect x="480.49" y="229.78" width="1.7" height="0.80" fill="#cc0e32"/>
<line x1="483.65" y1="220.74" x2="483.65" y2="239.76" stroke="#4a4a4a" stroke-width="0.9"/>
<rect x="482.80" y="221.75" width="1.7" height="10.53" fill="#cc0e32"/>
<line x1="485.95" y1="222.35" x2="485.95" y2="251.98" stroke="#4a4a4a" stroke-width="0.9"/>
<rect x="485.10" y="230.00" width="1.7" height="15.64" fill="#cc0e32"/>
<line x1="488.25" y1="246.22" x2="488.25" y2="258.01" stroke="#4a4a4a" stroke-width="0.9"/>
<rect x="487.25" y="251.11" width="2.0" height="3.33" fill="#8e9292" stroke="#2e2e2e" stroke-width="0.55"/>
<line x1="490.55" y1="244.98" x2="490.55" y2="271.48" stroke="#4a4a4a" stroke-width="0.9"/>
<rect x="489.70" y="246.01" width="1.7" height="17.02" fill="#cc0e32"/>
<line x1="492.86" y1="257.09" x2="492.86" y2="272.89" stroke="#4a4a4a" stroke-width="0.9"/>
<rect x="492.01" y="258.14" width="1.7" height="8.39" fill="#cc0e32"/>
<line x1="495.16" y1="263.23" x2="495.16" y2="282.36" stroke="#4a4a4a" stroke-width="0.9"/>
<rect x="494.16" y="263.93" width="2.0" height="7.67" fill="#8e9292" stroke="#2e2e2e" stroke-width="0.55"/>
<line x1="497.46" y1="255.25" x2="497.46" y2="277.46" stroke="#4a4a4a" stroke-width="0.9"/>
<rect x="496.61" y="257.39" width="1.7" height="18.18" fill="#cc0e32"/>
<line x1="499.76" y1="265.89" x2="499.76" y2="283.05" stroke="#4a4a4a" stroke-width="0.9"/>
<rect x="498.76" y="268.52" width="2.0" height="2.91" fill="#8e9292" stroke="#2e2e2e" stroke-width="0.55"/>
<line x1="502.07" y1="252.75" x2="502.07" y2="272.12" stroke="#4a4a4a" stroke-width="0.9"/>
<rect x="501.07" y="252.99" width="2.0" height="17.74" fill="#8e9292" stroke="#2e2e2e" stroke-width="0.55"/>
<line x1="504.37" y1="243.28" x2="504.37" y2="259.58" stroke="#4a4a4a" stroke-width="0.9"/>
<rect x="503.37" y="243.68" width="2.0" height="13.33" fill="#8e9292" stroke="#2e2e2e" stroke-width="0.55"/>
<line x1="506.67" y1="225.95" x2="506.67" y2="240.35" stroke="#4a4a4a" stroke-width="0.9"/>
<rect x="505.67" y="226.24" width="2.0" height="13.41" fill="#8e9292" stroke="#2e2e2e" stroke-width="0.55"/>
<line x1="508.97" y1="216.51" x2="508.97" y2="225.03" stroke="#4a4a4a" stroke-width="0.9"/>
<rect x="507.97" y="218.30" width="2.0" height="6.19" fill="#8e9292" stroke="#2e2e2e" stroke-width="0.55"/>
<line x1="511.28" y1="230.05" x2="511.28" y2="241.77" stroke="#4a4a4a" stroke-width="0.9"/>
<rect x="510.43" y="237.59" width="1.7" height="1.29" fill="#cc0e32"/>
<line x1="513.58" y1="215.66" x2="513.58" y2="239.69" stroke="#4a4a4a" stroke-width="0.9"/>
<rect x="512.58" y="221.33" width="2.0" height="17.36" fill="#8e9292" stroke="#2e2e2e" stroke-width="0.55"/>
<line x1="515.88" y1="210.43" x2="515.88" y2="224.49" stroke="#4a4a4a" stroke-width="0.9"/>
<rect x="514.88" y="219.42" width="2.0" height="3.21" fill="#8e9292" stroke="#2e2e2e" stroke-width="0.55"/>
<line x1="518.19" y1="219.49" x2="518.19" y2="233.07" stroke="#4a4a4a" stroke-width="0.9"/>
<rect x="517.19" y="220.09" width="2.0" height="6.26" fill="#8e9292" stroke="#2e2e2e" stroke-width="0.55"/>
<line x1="520.49" y1="209.23" x2="520.49" y2="229.38" stroke="#4a4a4a" stroke-width="0.9"/>
<rect x="519.49" y="210.52" width="2.0" height="15.03" fill="#8e9292" stroke="#2e2e2e" stroke-width="0.55"/>
<line x1="522.79" y1="203.39" x2="522.79" y2="216.36" stroke="#4a4a4a" stroke-width="0.9"/>
<rect x="521.79" y="211.09" width="2.0" height="3.05" fill="#8e9292" stroke="#2e2e2e" stroke-width="0.55"/>
<line x1="525.09" y1="202.60" x2="525.09" y2="224.65" stroke="#4a4a4a" stroke-width="0.9"/>
<rect x="524.24" y="211.82" width="1.7" height="12.54" fill="#cc0e32"/>
<line x1="527.40" y1="223.54" x2="527.40" y2="249.44" stroke="#4a4a4a" stroke-width="0.9"/>
<rect x="526.55" y="225.93" width="1.7" height="18.87" fill="#cc0e32"/>
<line x1="529.70" y1="251.65" x2="529.70" y2="271.20" stroke="#4a4a4a" stroke-width="0.9"/>
<rect x="528.85" y="254.01" width="1.7" height="12.99" fill="#cc0e32"/>
<line x1="532.00" y1="252.33" x2="532.00" y2="275.40" stroke="#4a4a4a" stroke-width="0.9"/>
<rect x="531.00" y="265.86" width="2.0" height="7.00" fill="#8e9292" stroke="#2e2e2e" stroke-width="0.55"/>
<line x1="534.30" y1="244.67" x2="534.30" y2="263.35" stroke="#4a4a4a" stroke-width="0.9"/>
<rect x="533.45" y="252.75" width="1.7" height="1.51" fill="#cc0e32"/>
<line x1="536.61" y1="244.11" x2="536.61" y2="263.25" stroke="#4a4a4a" stroke-width="0.9"/>
<rect x="535.61" y="246.11" width="2.0" height="7.92" fill="#8e9292" stroke="#2e2e2e" stroke-width="0.55"/>
<line x1="538.91" y1="253.07" x2="538.91" y2="282.98" stroke="#4a4a4a" stroke-width="0.9"/>
<rect x="538.06" y="254.56" width="1.7" height="24.36" fill="#cc0e32"/>
<line x1="541.21" y1="266.60" x2="541.21" y2="288.53" stroke="#4a4a4a" stroke-width="0.9"/>
<rect x="540.36" y="282.36" width="1.7" height="1.51" fill="#cc0e32"/>
<line x1="543.51" y1="300.76" x2="543.51" y2="324.45" stroke="#4a4a4a" stroke-width="0.9"/>
<rect x="542.66" y="301.87" width="1.7" height="20.26" fill="#cc0e32"/>
<line x1="545.82" y1="296.84" x2="545.82" y2="322.78" stroke="#4a4a4a" stroke-width="0.9"/>
<rect x="544.97" y="308.53" width="1.7" height="1.81" fill="#cc0e32"/>
<line x1="548.12" y1="314.97" x2="548.12" y2="337.41" stroke="#4a4a4a" stroke-width="0.9"/>
<rect x="547.27" y="317.75" width="1.7" height="7.03" fill="#cc0e32"/>
<line x1="550.42" y1="318.47" x2="550.42" y2="333.92" stroke="#4a4a4a" stroke-width="0.9"/>
<rect x="549.57" y="327.08" width="1.7" height="2.19" fill="#cc0e32"/>
<line x1="552.72" y1="335.23" x2="552.72" y2="356.24" stroke="#4a4a4a" stroke-width="0.9"/>
<rect x="551.87" y="336.28" width="1.7" height="18.20" fill="#cc0e32"/>
<line x1="555.03" y1="347.92" x2="555.03" y2="362.97" stroke="#4a4a4a" stroke-width="0.9"/>
<rect x="554.18" y="353.04" width="1.7" height="1.62" fill="#cc0e32"/>
<line x1="557.33" y1="349.99" x2="557.33" y2="367.99" stroke="#4a4a4a" stroke-width="0.9"/>
<rect x="556.48" y="358.03" width="1.7" height="7.45" fill="#cc0e32"/>
<line x1="559.63" y1="360.79" x2="559.63" y2="373.83" stroke="#4a4a4a" stroke-width="0.9"/>
<rect x="558.63" y="364.24" width="2.0" height="3.20" fill="#8e9292" stroke="#2e2e2e" stroke-width="0.55"/>
<line x1="561.93" y1="354.61" x2="561.93" y2="382.69" stroke="#4a4a4a" stroke-width="0.9"/>
<rect x="560.93" y="356.74" width="2.0" height="22.47" fill="#8e9292" stroke="#2e2e2e" stroke-width="0.55"/>
<line x1="564.24" y1="349.14" x2="564.24" y2="386.14" stroke="#4a4a4a" stroke-width="0.9"/>
<rect x="563.39" y="352.91" width="1.7" height="31.84" fill="#cc0e32"/>
<line x1="566.54" y1="356.51" x2="566.54" y2="377.28" stroke="#4a4a4a" stroke-width="0.9"/>
<rect x="565.54" y="360.71" width="2.0" height="15.58" fill="#8e9292" stroke="#2e2e2e" stroke-width="0.55"/>
<line x1="568.84" y1="343.18" x2="568.84" y2="364.22" stroke="#4a4a4a" stroke-width="0.9"/>
<rect x="567.99" y="343.72" width="1.7" height="15.58" fill="#cc0e32"/>
<line x1="571.14" y1="354.72" x2="571.14" y2="363.34" stroke="#4a4a4a" stroke-width="0.9"/>
<rect x="570.14" y="356.21" width="2.0" height="3.75" fill="#8e9292" stroke="#2e2e2e" stroke-width="0.55"/>
<line x1="573.45" y1="367.07" x2="573.45" y2="389.75" stroke="#4a4a4a" stroke-width="0.9"/>
<rect x="572.60" y="379.24" width="1.7" height="1.67" fill="#cc0e32"/>
<line x1="575.75" y1="368.56" x2="575.75" y2="386.74" stroke="#4a4a4a" stroke-width="0.9"/>
<rect x="574.75" y="368.93" width="2.0" height="13.43" fill="#8e9292" stroke="#2e2e2e" stroke-width="0.55"/>
<line x1="578.05" y1="370.50" x2="578.05" y2="395.46" stroke="#4a4a4a" stroke-width="0.9"/>
<rect x="577.05" y="374.27" width="2.0" height="9.09" fill="#8e9292" stroke="#2e2e2e" stroke-width="0.55"/>
<line x1="18.5" y1="34.6" x2="596" y2="34.6" stroke="#b545b5" stroke-width="2"/>
<line x1="258.0" y1="84.7" x2="596" y2="84.7" stroke="#afad79" stroke-width="2"/>
<line x1="449.1" y1="202.8" x2="596" y2="202.8" stroke="#00ff00" stroke-width="2"/>
<line x1="336.3" y1="381.1" x2="596" y2="381.1" stroke="#ff0000" stroke-width="2"/>
<line x1="258.0" y1="84.7" x2="596" y2="233.6" stroke="#4b8600" stroke-width="2.6"/>
<line x1="9.0" y1="0" x2="9.0" y2="429" stroke="#6a6a6a" stroke-width="1" stroke-dasharray="1.3 1.42"/>
<line x1="58.0" y1="0" x2="58.0" y2="429" stroke="#6a6a6a" stroke-width="1" stroke-dasharray="1.3 1.42"/>
<line x1="108.6" y1="0" x2="108.6" y2="429" stroke="#6a6a6a" stroke-width="1" stroke-dasharray="1.3 1.42"/>
<line x1="154.6" y1="0" x2="154.6" y2="429" stroke="#6a6a6a" stroke-width="1" stroke-dasharray="1.3 1.42"/>
<line x1="197.7" y1="0" x2="197.7" y2="429" stroke="#6a6a6a" stroke-width="1" stroke-dasharray="1.3 1.42"/>
<line x1="251.1" y1="0" x2="251.1" y2="429" stroke="#6a6a6a" stroke-width="1" stroke-dasharray="1.3 1.42"/>
<line x1="297.4" y1="0" x2="297.4" y2="429" stroke="#6a6a6a" stroke-width="1" stroke-dasharray="1.3 1.42"/>
<line x1="345.4" y1="0" x2="345.4" y2="429" stroke="#6a6a6a" stroke-width="1" stroke-dasharray="1.3 1.42"/>
<line x1="393.7" y1="0" x2="393.7" y2="429" stroke="#6a6a6a" stroke-width="1" stroke-dasharray="1.3 1.42"/>
<line x1="439.6" y1="0" x2="439.6" y2="429" stroke="#6a6a6a" stroke-width="1" stroke-dasharray="1.3 1.42"/>
<line x1="493.0" y1="0" x2="493.0" y2="429" stroke="#6a6a6a" stroke-width="1" stroke-dasharray="1.3 1.42"/>
<line x1="541.0" y1="0" x2="541.0" y2="429" stroke="#6a6a6a" stroke-width="1" stroke-dasharray="1.3 1.42"/>
<line x1="589.4" y1="0" x2="589.4" y2="429" stroke="#6a6a6a" stroke-width="1" stroke-dasharray="1.3 1.42"/>
<line x1="0" y1="58.3" x2="596" y2="58.3" stroke="#6a6a6a" stroke-width="1" stroke-dasharray="1.3 1.42"/>
<line x1="0" y1="142.0" x2="596" y2="142.0" stroke="#6a6a6a" stroke-width="1" stroke-dasharray="1.3 1.42"/>
<line x1="0" y1="225.7" x2="596" y2="225.7" stroke="#6a6a6a" stroke-width="1" stroke-dasharray="1.3 1.42"/>
<line x1="0" y1="309.4" x2="596" y2="309.4" stroke="#6a6a6a" stroke-width="1" stroke-dasharray="1.3 1.42"/>
<line x1="0" y1="393.1" x2="596" y2="393.1" stroke="#6a6a6a" stroke-width="1" stroke-dasharray="1.3 1.42"/>
<line x1="596.2" y1="0" x2="596.2" y2="430.5" stroke="#4a4a4a" stroke-width="1.3"/>
<line x1="0" y1="429.9" x2="597" y2="429.9" stroke="#858585" stroke-width="1.7"/>
<line x1="9.0" y1="428" x2="9.0" y2="432.5" stroke="#333" stroke-width="1"/>
<line x1="58.0" y1="428" x2="58.0" y2="432.5" stroke="#333" stroke-width="1"/>
<line x1="108.6" y1="428" x2="108.6" y2="432.5" stroke="#333" stroke-width="1"/>
<line x1="154.6" y1="428" x2="154.6" y2="432.5" stroke="#333" stroke-width="1"/>
<line x1="197.7" y1="428" x2="197.7" y2="432.5" stroke="#333" stroke-width="1"/>
<line x1="251.1" y1="428" x2="251.1" y2="432.5" stroke="#333" stroke-width="1"/>
<line x1="297.4" y1="428" x2="297.4" y2="432.5" stroke="#333" stroke-width="1"/>
<line x1="345.4" y1="428" x2="345.4" y2="432.5" stroke="#333" stroke-width="1"/>
<line x1="393.7" y1="428" x2="393.7" y2="432.5" stroke="#333" stroke-width="1"/>
<line x1="439.6" y1="428" x2="439.6" y2="432.5" stroke="#333" stroke-width="1"/>
<line x1="493.0" y1="428" x2="493.0" y2="432.5" stroke="#333" stroke-width="1"/>
<line x1="541.0" y1="428" x2="541.0" y2="432.5" stroke="#333" stroke-width="1"/>
<line x1="589.4" y1="428" x2="589.4" y2="432.5" stroke="#333" stroke-width="1"/>
<polygon points="596.5,56.4 601.6,58.3 596.5,60.2" fill="#000"/>
<text x="602.6" y="61.9" class="ax" textLength="14.2" lengthAdjust="spacingAndGlyphs">400</text>
<polygon points="596.5,140.1 601.6,142.0 596.5,143.9" fill="#000"/>
<text x="602.6" y="145.6" class="ax" textLength="14.2" lengthAdjust="spacingAndGlyphs">350</text>
<polygon points="596.5,223.8 601.6,225.7 596.5,227.6" fill="#000"/>
<text x="602.6" y="229.3" class="ax" textLength="14.2" lengthAdjust="spacingAndGlyphs">300</text>
<polygon points="596.5,307.5 601.6,309.4 596.5,311.3" fill="#000"/>
<text x="602.6" y="313.0" class="ax" textLength="14.2" lengthAdjust="spacingAndGlyphs">250</text>
<polygon points="596.5,391.2 601.6,393.1 596.5,395.0" fill="#000"/>
<text x="602.6" y="396.7" class="ax" textLength="14.2" lengthAdjust="spacingAndGlyphs">200</text>
<line x1="596.5" y1="16.4" x2="599.5" y2="16.4" stroke="#333" stroke-width="1"/>
<line x1="596.5" y1="100.2" x2="599.5" y2="100.2" stroke="#333" stroke-width="1"/>
<line x1="596.5" y1="183.8" x2="599.5" y2="183.8" stroke="#333" stroke-width="1"/>
<line x1="596.5" y1="267.6" x2="599.5" y2="267.6" stroke="#333" stroke-width="1"/>
<line x1="596.5" y1="351.2" x2="599.5" y2="351.2" stroke="#333" stroke-width="1"/>
<path d="M597,34.3 L600.3,31.1 L600.3,28.1 L640,28.1 L640,40.5 L600.3,40.5 L600.3,37.5 Z" fill="#c85ac8" stroke="#1c1c1c" stroke-width="1.1" stroke-linejoin="miter"/>
<text x="602.2" y="37.9" class="ax" style="fill:#1a1a1a" textLength="31" lengthAdjust="spacingAndGlyphs">414.497</text>
<path d="M597,84.6 L600.3,81.4 L600.3,78.4 L640,78.4 L640,90.8 L600.3,90.8 L600.3,87.8 Z" fill="#c8c896" stroke="#1c1c1c" stroke-width="1.1" stroke-linejoin="miter"/>
<text x="602.2" y="88.2" class="ax" style="fill:#1a1a1a" textLength="26" lengthAdjust="spacingAndGlyphs">384.29</text>
<path d="M597,202.8 L600.3,199.6 L600.3,196.6 L640,196.6 L640,209.0 L600.3,209.0 L600.3,206.0 Z" fill="#00ff00" stroke="#1c1c1c" stroke-width="1.1" stroke-linejoin="miter"/>
<text x="602.2" y="206.4" class="ax" style="fill:#1a1a1a" textLength="31" lengthAdjust="spacingAndGlyphs">313.607</text>
<path d="M597,373.4 L600.3,370.2 L600.3,367.3 L640,367.3 L640,379.5 L600.3,379.5 L600.3,376.6 Z" fill="#000000" stroke="#1c1c1c" stroke-width="1.1" stroke-linejoin="miter"/>
<text x="602.2" y="377.0" class="ax" style="fill:#ffffff" textLength="26" lengthAdjust="spacingAndGlyphs">211.25</text>
<path d="M597,381.2 L600.3,378.0 L600.3,375.3 L640,375.3 L640,387.4 L600.3,387.4 L600.3,384.4 Z" fill="#ff0000" stroke="#1c1c1c" stroke-width="1.1" stroke-linejoin="miter"/>
<text x="602.2" y="384.8" class="ax" style="fill:#ffffff" textLength="30.6" lengthAdjust="spacingAndGlyphs">206.857</text>
<text x="1.3" y="440.3" class="mo" textLength="20.3" lengthAdjust="spacingAndGlyphs">10月</text>
<text x="27.8" y="440.3" class="mo" textLength="10.0" lengthAdjust="spacingAndGlyphs">...</text>
<text x="72.2" y="440.3" class="mo" textLength="21.6" lengthAdjust="spacingAndGlyphs">12月</text>
<text x="122.9" y="440.3" class="mo" textLength="17.5" lengthAdjust="spacingAndGlyphs">1月</text>
<text x="167.4" y="440.3" class="mo" textLength="16.5" lengthAdjust="spacingAndGlyphs">2月</text>
<text x="215.9" y="440.3" class="mo" textLength="16.6" lengthAdjust="spacingAndGlyphs">3月</text>
<text x="266.1" y="440.3" class="mo" textLength="16.6" lengthAdjust="spacingAndGlyphs">4月</text>
<text x="312.7" y="440.3" class="mo" textLength="17.0" lengthAdjust="spacingAndGlyphs">5月</text>
<text x="361.4" y="440.3" class="mo" textLength="17.2" lengthAdjust="spacingAndGlyphs">6月</text>
<text x="408.2" y="440.3" class="mo" textLength="16.6" lengthAdjust="spacingAndGlyphs">7月</text>
<text x="457.8" y="440.3" class="mo" textLength="17.3" lengthAdjust="spacingAndGlyphs">8月</text>
<text x="507.7" y="440.3" class="mo" textLength="17.0" lengthAdjust="spacingAndGlyphs">9月</text>
<text x="554.0" y="440.3" class="mo" textLength="22.2" lengthAdjust="spacingAndGlyphs">10月</text>
<text x="44.8" y="451" class="mo" textLength="18.9" lengthAdjust="spacingAndGlyphs">2021</text>
<text x="342.6" y="450.8" class="mo" textLength="19" lengthAdjust="spacingAndGlyphs">2022</text>
<line x1="108.7" y1="440.6" x2="108.7" y2="452" stroke="#888" stroke-width="0.8"/>
<rect x="2.3" y="372.8" width="139.2" height="54.5" rx="3.2" ry="3.2" fill="#f0f0f0" fill-opacity="0.78" stroke="#363636" stroke-width="1.2"/>
<line x1="9.4" y1="385.5" x2="9.4" y2="417.5" stroke="#555" stroke-width="0.9" stroke-dasharray="1 1.2"/>
<line x1="9.4" y1="393.8" x2="11.2" y2="395.6" stroke="#666" stroke-width="0.8"/>
<line x1="9.4" y1="405.0" x2="11.2" y2="406.8" stroke="#666" stroke-width="0.8"/>
<line x1="9.4" y1="415.5" x2="11.2" y2="417.3" stroke="#666" stroke-width="0.8"/>
<rect x="7.4" y="380.8" width="4.3" height="4.2" rx="0.8" fill="#fff" stroke="#8a8a8a" stroke-width="0.8"/>
<line x1="8.3" y1="382.9" x2="10.8" y2="382.9" stroke="#666" stroke-width="0.7"/>
<rect x="13.6" y="378.8" width="9.8" height="9.4" fill="#fff"/>
<rect x="14.5" y="379.7" width="8.1" height="7.7" fill="#000"/>
<polygon points="16.3,390.2 21.1,390.2 19.3,392.1 18.1,392.1" fill="#6a6a6a"/>
<line x1="18.7" y1="391.5" x2="18.7" y2="398.6" stroke="#808080" stroke-width="1"/>
<line x1="14.4" y1="406.1" x2="22.6" y2="406.1" stroke="#8a8a8a" stroke-width="0.9"/>
<polygon points="18.5,404.5 20.1,406.1 18.5,407.7 16.9,406.1" fill="#6a6a6a"/>
<line x1="18.7" y1="412.3" x2="18.7" y2="419.2" stroke="#808080" stroke-width="1"/>
<polygon points="18.1,418.4 19.3,418.4 21.1,420.3 16.3,420.3" fill="#6a6a6a"/>
<text x="25.5" y="388.3" class="lg">最新价格</text>
<text x="104.6" y="387.8" class="ax" textLength="26.3" lengthAdjust="spacingAndGlyphs">211.25</text>
<text x="25.5" y="399.4" class="lg">最高价</text>
<text x="62.1" y="398.9" class="ax" textLength="37.6" lengthAdjust="spacingAndGlyphs">11/04/21</text>
<text x="104.6" y="398.9" class="ax" textLength="30.5" lengthAdjust="spacingAndGlyphs">414.497</text>
<text x="25.5" y="410.4" class="lg">平均价</text>
<text x="104.6" y="409.9" class="ax" textLength="30.5" lengthAdjust="spacingAndGlyphs">296.641</text>
<text x="25.5" y="421.3" class="lg">最低价</text>
<text x="62.1" y="420.8" class="ax" textLength="37.6" lengthAdjust="spacingAndGlyphs">10/24/22</text>
<text x="104.6" y="420.8" class="ax" textLength="30.5" lengthAdjust="spacingAndGlyphs">198.586</text>
<text x="1.34" y="461.4" class="ft" textLength="4.00" lengthAdjust="spacingAndGlyphs">T</text>
<text x="5.42" y="461.4" class="ft" textLength="4.00" lengthAdjust="spacingAndGlyphs">S</text>
<text x="9.50" y="461.4" class="ft" textLength="4.00" lengthAdjust="spacingAndGlyphs">L</text>
<text x="13.58" y="461.4" class="ft" textLength="4.00" lengthAdjust="spacingAndGlyphs">A</text>
<text x="21.74" y="461.4" class="ft" textLength="4.00" lengthAdjust="spacingAndGlyphs">U</text>
<text x="25.82" y="461.4" class="ft" textLength="4.00" lengthAdjust="spacingAndGlyphs">S</text>
<text x="33.98" y="461.4" class="ft" textLength="4.00" lengthAdjust="spacingAndGlyphs">E</text>
<text x="38.06" y="461.4" class="ft" textLength="4.00" lengthAdjust="spacingAndGlyphs">q</text>
<text x="42.14" y="461.4" class="ft" textLength="4.00" lengthAdjust="spacingAndGlyphs">u</text>
<text x="48.22" y="461.4" class="ft" text-anchor="middle">i</text>
<text x="52.30" y="461.4" class="ft" text-anchor="middle">t</text>
<text x="54.38" y="461.4" class="ft" textLength="4.00" lengthAdjust="spacingAndGlyphs">y</text>
<text x="64.54" y="461.4" class="ft" text-anchor="middle">(</text>
<text x="70.66" y="461.4" class="ftc" text-anchor="middle">特</text>
<text x="78.82" y="461.4" class="ftc" text-anchor="middle">斯</text>
<text x="86.98" y="461.4" class="ftc" text-anchor="middle">拉</text>
<text x="95.14" y="461.4" class="ftc" text-anchor="middle">公</text>
<text x="103.30" y="461.4" class="ftc" text-anchor="middle">司</text>
<text x="109.42" y="461.4" class="ft" text-anchor="middle">)</text>
<text x="125.54" y="461.4" class="ftc" text-anchor="middle">日</text>
<text x="133.70" y="461.4" class="ftc" text-anchor="middle">线</text>
<text x="141.86" y="461.4" class="ftc" text-anchor="middle">图</text>
<text x="150.06" y="461.4" class="ft" textLength="4.00" lengthAdjust="spacingAndGlyphs">2</text>
<text x="154.14" y="461.4" class="ft" textLength="4.00" lengthAdjust="spacingAndGlyphs">5</text>
<text x="158.22" y="461.4" class="ft" textLength="4.00" lengthAdjust="spacingAndGlyphs">O</text>
<text x="162.30" y="461.4" class="ft" textLength="4.00" lengthAdjust="spacingAndGlyphs">C</text>
<text x="166.38" y="461.4" class="ft" textLength="4.00" lengthAdjust="spacingAndGlyphs">T</text>
<text x="170.46" y="461.4" class="ft" textLength="4.00" lengthAdjust="spacingAndGlyphs">2</text>
<text x="174.54" y="461.4" class="ft" textLength="4.00" lengthAdjust="spacingAndGlyphs">0</text>
<text x="178.62" y="461.4" class="ft" textLength="4.00" lengthAdjust="spacingAndGlyphs">2</text>
<text x="182.70" y="461.4" class="ft" textLength="4.00" lengthAdjust="spacingAndGlyphs">1</text>
<text x="188.78" y="461.4" class="ft" text-anchor="middle">-</text>
<text x="190.86" y="461.4" class="ft" textLength="4.00" lengthAdjust="spacingAndGlyphs">2</text>
<text x="194.94" y="461.4" class="ft" textLength="4.00" lengthAdjust="spacingAndGlyphs">5</text>
<text x="199.02" y="461.4" class="ft" textLength="4.00" lengthAdjust="spacingAndGlyphs">O</text>
<text x="203.10" y="461.4" class="ft" textLength="4.00" lengthAdjust="spacingAndGlyphs">C</text>
<text x="207.18" y="461.4" class="ft" textLength="4.00" lengthAdjust="spacingAndGlyphs">T</text>
<text x="211.26" y="461.4" class="ft" textLength="4.00" lengthAdjust="spacingAndGlyphs">2</text>
<text x="215.34" y="461.4" class="ft" textLength="4.00" lengthAdjust="spacingAndGlyphs">0</text>
<text x="219.42" y="461.4" class="ft" textLength="4.00" lengthAdjust="spacingAndGlyphs">2</text>
<text x="223.50" y="461.4" class="ft" textLength="4.00" lengthAdjust="spacingAndGlyphs">2</text>
<text x="310.84" y="461.4" class="ft" textLength="4.00" lengthAdjust="spacingAndGlyphs">C</text>
<text x="314.92" y="461.4" class="ft" textLength="4.00" lengthAdjust="spacingAndGlyphs">o</text>
<text x="319.00" y="461.4" class="ft" textLength="4.00" lengthAdjust="spacingAndGlyphs">p</text>
<text x="323.08" y="461.4" class="ft" textLength="4.00" lengthAdjust="spacingAndGlyphs">y</text>
<text x="329.16" y="461.4" class="ft" text-anchor="middle">r</text>
<text x="333.24" y="461.4" class="ft" text-anchor="middle">i</text>
<text x="335.32" y="461.4" class="ft" textLength="4.00" lengthAdjust="spacingAndGlyphs">g</text>
<text x="339.40" y="461.4" class="ft" textLength="4.00" lengthAdjust="spacingAndGlyphs">h</text>
<text x="345.48" y="461.4" class="ft" text-anchor="middle">t</text>
<text x="347.56" y="461.4" class="ft" textLength="4.00" lengthAdjust="spacingAndGlyphs">©</text>
<text x="355.72" y="461.4" class="ft" textLength="4.00" lengthAdjust="spacingAndGlyphs">2</text>
<text x="359.80" y="461.4" class="ft" textLength="4.00" lengthAdjust="spacingAndGlyphs">0</text>
<text x="363.88" y="461.4" class="ft" textLength="4.00" lengthAdjust="spacingAndGlyphs">2</text>
<text x="367.96" y="461.4" class="ft" textLength="4.00" lengthAdjust="spacingAndGlyphs">2</text>
<text x="376.12" y="461.4" class="ft" textLength="4.00" lengthAdjust="spacingAndGlyphs">B</text>
<text x="382.20" y="461.4" class="ft" text-anchor="middle">l</text>
<text x="384.28" y="461.4" class="ft" textLength="4.00" lengthAdjust="spacingAndGlyphs">o</text>
<text x="388.36" y="461.4" class="ft" textLength="4.00" lengthAdjust="spacingAndGlyphs">o</text>
<text x="392.44" y="461.4" class="ft" textLength="4.00" lengthAdjust="spacingAndGlyphs">m</text>
<text x="396.52" y="461.4" class="ft" textLength="4.00" lengthAdjust="spacingAndGlyphs">b</text>
<text x="402.60" y="461.4" class="ft" text-anchor="middle">e</text>
<text x="406.68" y="461.4" class="ft" text-anchor="middle">r</text>
<text x="408.76" y="461.4" class="ft" textLength="4.00" lengthAdjust="spacingAndGlyphs">g</text>
<text x="416.92" y="461.4" class="ft" textLength="4.00" lengthAdjust="spacingAndGlyphs">F</text>
<text x="423.00" y="461.4" class="ft" text-anchor="middle">i</text>
<text x="425.08" y="461.4" class="ft" textLength="4.00" lengthAdjust="spacingAndGlyphs">n</text>
<text x="431.16" y="461.4" class="ft" text-anchor="middle">a</text>
<text x="433.24" y="461.4" class="ft" textLength="4.00" lengthAdjust="spacingAndGlyphs">n</text>
<text x="439.32" y="461.4" class="ft" text-anchor="middle">c</text>
<text x="443.40" y="461.4" class="ft" text-anchor="middle">e</text>
<text x="449.56" y="461.4" class="ft" textLength="4.00" lengthAdjust="spacingAndGlyphs">L</text>
<text x="455.64" y="461.4" class="ft" text-anchor="middle">.</text>
<text x="457.72" y="461.4" class="ft" textLength="4.00" lengthAdjust="spacingAndGlyphs">P</text>
<text x="463.80" y="461.4" class="ft" text-anchor="middle">.</text>
<text x="551.84" y="461.4" class="ft" textLength="4.00" lengthAdjust="spacingAndGlyphs">2</text>
<text x="555.92" y="461.4" class="ft" textLength="4.00" lengthAdjust="spacingAndGlyphs">5</text>
<text x="562.00" y="461.4" class="ft" text-anchor="middle">-</text>
<text x="564.08" y="461.4" class="ft" textLength="4.00" lengthAdjust="spacingAndGlyphs">O</text>
<text x="570.16" y="461.4" class="ft" text-anchor="middle">c</text>
<text x="574.24" y="461.4" class="ft" text-anchor="middle">t</text>
<text x="578.32" y="461.4" class="ft" text-anchor="middle">-</text>
<text x="580.40" y="461.4" class="ft" textLength="4.00" lengthAdjust="spacingAndGlyphs">2</text>
<text x="584.48" y="461.4" class="ft" textLength="4.00" lengthAdjust="spacingAndGlyphs">0</text>
<text x="588.56" y="461.4" class="ft" textLength="4.00" lengthAdjust="spacingAndGlyphs">2</text>
<text x="592.64" y="461.4" class="ft" textLength="4.00" lengthAdjust="spacingAndGlyphs">2</text>
<text x="600.80" y="461.4" class="ft" textLength="4.00" lengthAdjust="spacingAndGlyphs">1</text>
<text x="604.88" y="461.4" class="ft" textLength="4.00" lengthAdjust="spacingAndGlyphs">2</text>
<text x="610.96" y="461.4" class="ft" text-anchor="middle">:</text>
<text x="613.04" y="461.4" class="ft" textLength="4.00" lengthAdjust="spacingAndGlyphs">0</text>
<text x="617.12" y="461.4" class="ft" textLength="4.00" lengthAdjust="spacingAndGlyphs">3</text>
<text x="623.20" y="461.4" class="ft" text-anchor="middle">:</text>
<text x="625.28" y="461.4" class="ft" textLength="4.00" lengthAdjust="spacingAndGlyphs">1</text>
<text x="629.36" y="461.4" class="ft" textLength="4.00" lengthAdjust="spacingAndGlyphs">6</text>
</svg>
</body></html>
